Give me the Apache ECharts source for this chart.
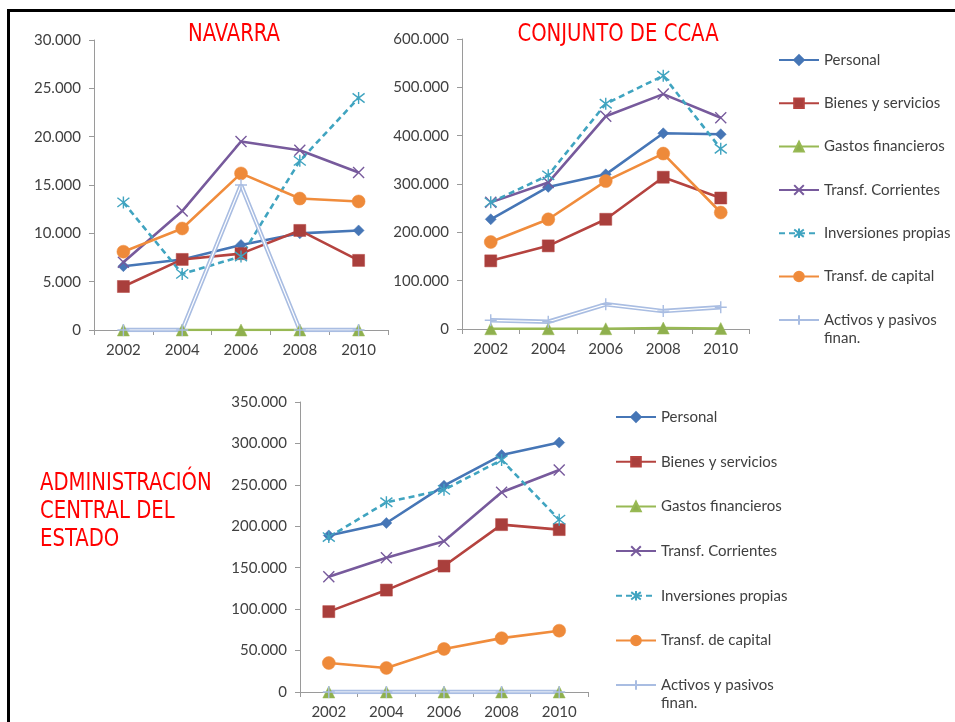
<!DOCTYPE html>
<html><head><meta charset="utf-8">
<script src="https://cdn.jsdelivr.net/npm/echarts@6/dist/echarts.min.js"></script>
<style>html,body{margin:0;padding:0;background:#fff}#c{width:955px;height:722px}</style>
</head><body><div id="c"></div>
<script>
const years = ['2002','2004','2006','2008','2010'];
const seriesNames = ['Personal','Bienes y servicios','Gastos financieros','Transf. Corrientes','Inversiones propias','Transf. de capital','Activos y pasivos finan.'];

// NAVARRA
const navPersonal    = [6600, 7300, 8800, 10000, 10300];
const navBienes      = [4500, 7300, 7900, 10300, 7200];
const navGastos      = [0, 0, 0, 0, 0];
const navTransfCorr  = [7000, 12300, 19500, 18600, 16300];
const navInversiones = [13200, 5800, 7600, 17500, 24000];
const navTransfCap   = [8100, 10500, 16200, 13600, 13300];
const navActivos     = [0, 0, 15000, 0, 0];

// CONJUNTO DE CCAA
const ccaaPersonal    = [227000, 294000, 320000, 405000, 403000];
const ccaaBienes      = [141000, 172000, 227000, 314000, 271000];
const ccaaGastos      = [500, 500, 500, 2000, 1000];
const ccaaTransfCorr  = [262000, 303000, 440000, 486000, 437000];
const ccaaInversiones = [262000, 318000, 466000, 524000, 373000];
const ccaaTransfCap   = [180000, 227000, 306000, 363000, 241000];
const ccaaActivos     = [18000, 15000, 51000, 37000, 45000];

// ADMINISTRACIÓN CENTRAL DEL ESTADO
const acePersonal    = [189000, 204000, 249000, 286000, 301000];
const aceBienes      = [97000, 123000, 152000, 202000, 196000];
const aceGastos      = [0, 0, 0, 0, 0];
const aceTransfCorr  = [139000, 162000, 182000, 241000, 268000];
const aceInversiones = [187000, 229000, 244000, 280000, 208000];
const aceTransfCap   = [35000, 29000, 52000, 65000, 74000];
const aceActivos     = [0, 0, 0, 0, 0];

// axis ticks
const navMax = 30000, navStep = 5000;
const ccaaMax = 600000, ccaaStep = 100000;
const aceMax = 350000, aceStep = 50000;

const panels = [
  [navPersonal, navBienes, navGastos, navTransfCorr, navInversiones, navTransfCap, navActivos],
  [ccaaPersonal, ccaaBienes, ccaaGastos, ccaaTransfCorr, ccaaInversiones, ccaaTransfCap, ccaaActivos],
  [acePersonal, aceBienes, aceGastos, aceTransfCorr, aceInversiones, aceTransfCap, aceActivos]
];

const FONT = 'Lato, "Open Sans", sans-serif';
const TITLE_FONT = '"Liberation Sans Narrow", "DejaVu Sans Condensed", "Liberation Sans", sans-serif';
const TXT = '#404040';
const AXIS = '#9a9a9a';

const styles = [
  {color:'#4676B6', symbol:'diamond', size:11, fill:'#4676B6'},
  {color:'#B5433F', symbol:'rect', size:12, fill:'#A93F3C'},
  {color:'#98B954', symbol:'triangle', size:12, fill:'#8FB04E'},
  {color:'#775A9C', symbol:'path://M0,0L10,10M10,0L0,10', size:11, fill:'transparent', stroke:true},
  {color:'#40A4C0', symbol:'path://M0,0L10,10M10,0L0,10M5,-1.5L5,11.5', size:12, fill:'transparent', stroke:true, dashed:true},
  {color:'#F08C3C', symbol:'circle', size:13, fill:'#EE8A3A'},
  {color:'#A9BDE2', symbol:'path://M5,0L5,10M0,5L10,5', size:12, fill:'transparent', stroke:true, dbl:true}
];

function fmt(v){ return String(v).replace(/\B(?=(\d{3})+(?!\d))/g, '.'); }

const grids = [
  {left:94, top:40, width:294, height:290},
  {left:462, top:39, width:287.5, height:290},
  {left:300, top:402, width:288, height:290}
];
const maxes = [[navMax, navStep],[ccaaMax, ccaaStep],[aceMax, aceStep]];

const xAxis = grids.map((g,i)=>({
  type:'category', gridIndex:i, data:years, boundaryGap:true,
  axisLine:{lineStyle:{color:AXIS, width:1}},
  axisTick:{show:true, length:5, lineStyle:{color:AXIS}},
  axisLabel:{color:TXT, fontFamily:FONT, fontSize:15, margin:13}
}));
const yAxis = grids.map((g,i)=>({
  type:'value', gridIndex:i, min:0, max:maxes[i][0], interval:maxes[i][1],
  axisLine:{show:true, lineStyle:{color:AXIS, width:1}},
  axisTick:{show:true, length:5, lineStyle:{color:AXIS}},
  splitLine:{show:false},
  axisLabel:{color:TXT, fontFamily:FONT, fontSize:15, margin:13, formatter:fmt}
}));

const series = [];
panels.forEach((arrs, p)=>{
  arrs.forEach((data, k)=>{
    const st = styles[k];
    series.push({
      name: seriesNames[k], type:'line', xAxisIndex:p, yAxisIndex:p, data:data,
      symbol: st.symbol, symbolSize: st.size, showSymbol:true, animation:false,
      lineStyle:{color:st.color, width: st.dbl ? 4.5 : 2.6, type: st.dashed ? [6,4] : 'solid'},
      itemStyle:{color: st.fill, borderColor: st.color, borderWidth: st.stroke ? 1.4 : 0.5},
      emphasis:{disabled:true}
    });
    if (st.dbl) {
      series.push({
        name:'_inner'+p, type:'line', xAxisIndex:p, yAxisIndex:p, data:data,
        symbol:'none', silent:true, animation:false,
        lineStyle:{color:'#ffffff', width:1.2}, emphasis:{disabled:true}
      });
    }
  });
});

const legendCommon = {
  orient:'vertical', itemWidth:40, itemHeight:12, selectedMode:false, padding:0,
  textStyle:{color:TXT, fontFamily:FONT, fontSize:15, lineHeight:18}
};
const mainNames = seriesNames.slice(0,6);
const lastName = seriesNames[6];
const lastFmt = n => '\nActivos y pasivos\nfinan.';

const option = {
  animation:false,
  backgroundColor:'#ffffff',
  grid: grids,
  xAxis, yAxis, series,
  legend:[
    Object.assign({left:778, top:51, height:300, itemGap:25.3, data:mainNames}, legendCommon),
    Object.assign({left:778, top:293, height:60, data:[lastName], formatter:lastFmt}, legendCommon),
    Object.assign({left:615, top:408, height:300, itemGap:26.7, data:mainNames}, legendCommon),
    Object.assign({left:615, top:658, height:60, data:[lastName], formatter:lastFmt}, legendCommon)
  ],
  graphic:[
    {type:'polyline', shape:{points:[[8.5,722],[8.5,10.5],[955,10.5]]}, style:{stroke:'#000', lineWidth:3, fill:null}},
    {type:'text', x:234, y:35, scaleX:0.91, style:{text:'NAVARRA', x:0, y:0, align:'center', verticalAlign:'middle', fill:'#FF0000', font:'24px '+TITLE_FONT}},
    {type:'text', x:618, y:35, scaleX:0.91, style:{text:'CONJUNTO DE CCAA', x:0, y:0, align:'center', verticalAlign:'middle', fill:'#FF0000', font:'24px '+TITLE_FONT}},
    {type:'text', x:40, y:470, scaleX:0.91, style:{text:'ADMINISTRACIÓN\nCENTRAL DEL\nESTADO', x:0, y:0, align:'left', verticalAlign:'top', lineHeight:28, fill:'#FF0000', font:'24px '+TITLE_FONT}}
  ]
};
const chart = echarts.init(document.getElementById('c'), null, {renderer:'canvas'});
chart.setOption(option);
</script></body></html>
